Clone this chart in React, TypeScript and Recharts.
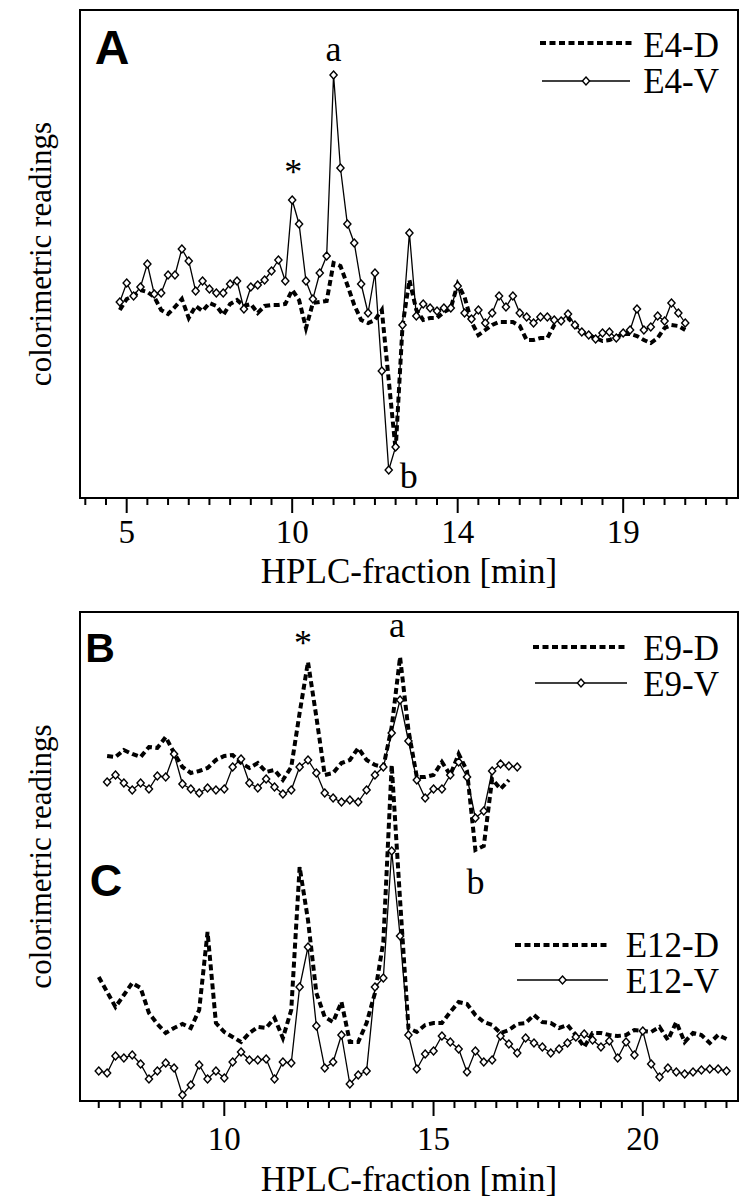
import React from "react";
import {
  LineChart,
  Line,
  XAxis,
  YAxis,
  ReferenceArea,
  ReferenceDot,
  Legend,
} from "recharts";

const SERIF = '"Liberation Serif", "Times New Roman", serif';
const SANS = '"Liberation Sans", Arial, sans-serif';

// Panel A: one reading per collected fraction (fraction number = index)
const E4_D = [
  1.88, 1.99, 2.02, 2.08, 2.06, 2.01, 1.88, 1.84, 1.91, 1.99,
  1.8, 1.92, 1.87, 1.95, 1.92, 1.83, 1.94, 1.98, 1.92, 1.94,
  1.85, 1.92, 1.93, 1.93, 1.94, 2.08, 1.98, 1.7, 1.95, 1.96,
  1.97, 2.35, 2.32, 2.13, 1.93, 1.78, 1.75, 1.78, 1.88, 1.18,
  0.48, 1.72, 2.18, 1.88, 1.78, 1.8, 1.8, 1.86, 1.9, 2.14,
  2.01, 1.76, 1.63, 1.68, 1.73, 1.76, 1.76, 1.76, 1.72, 1.58,
  1.58, 1.6, 1.6, 1.73, 1.78, 1.8, 1.73, 1.66, 1.63, 1.6,
  1.57, 1.58, 1.61, 1.64, 1.64, 1.62, 1.58, 1.55, 1.6, 1.7,
  1.73, 1.72, 1.68,
];
const E4_V = [
  1.96, 2.15, 2.02, 2.11, 2.34, 2.04, 2.05, 2.23, 2.23, 2.49,
  2.37, 2.07, 2.17, 2.09, 2.05, 2.05, 2.14, 2.17, 1.89, 2.11,
  2.13, 2.18, 2.27, 2.38, 2.17, 2.98, 2.74, 2.17, 1.99, 2.25,
  2.42, 4.23, 3.3, 2.74, 2.55, 2.14, 1.85, 2.25, 1.27, 0.28,
  0.51, 1.73, 2.65, 1.82, 1.94, 1.9, 1.87, 1.9, 1.9, 2.12,
  1.85, 1.79, 1.88, 1.75, 1.85, 2.02, 1.91, 2.02, 1.85, 1.81,
  1.75, 1.81, 1.81, 1.78, 1.77, 1.84, 1.73, 1.66, 1.63, 1.59,
  1.65, 1.66, 1.6, 1.65, 1.68, 1.89, 1.68, 1.71, 1.82, 1.77,
  1.95, 1.85, 1.75,
];
const A_MAJOR_TICKS = [1, 25, 49, 73];
const A_TICK_LABELS = ["5", "10", "14", "19"];
const A_X_DOMAIN = [-5.77, 89.65];
const A_Y_DOMAIN = [0, 4.88];

// Panels B and C: fractions every 0.2 min
const STEP = 0.2;
const E9_START = 7.2;
const E12_START = 7.0;
const E9_D = [
  3.45, 3.44, 3.51, 3.47, 3.44, 3.54, 3.53, 3.64, 3.48, 3.34,
  3.28, 3.3, 3.33, 3.41, 3.45, 3.46, 3.38, 3.33, 3.38, 3.29,
  3.31, 3.21, 3.34, 3.88, 4.39, 3.84, 3.26, 3.28, 3.38, 3.41,
  3.53, 3.41, 3.36, 3.34, 3.74, 4.44, 3.71, 3.24, 3.24, 3.26,
  3.39, 3.26, 3.47, 3.3, 2.51, 2.55, 3.22, 3.12, 3.21,
];
const E9_V = [
  3.19, 3.26, 3.18, 3.11, 3.18, 3.12, 3.25, 3.24, 3.47, 3.17,
  3.12, 3.08, 3.13, 3.11, 3.12, 3.34, 3.42, 3.18, 3.13, 3.22,
  3.14, 3.07, 3.11, 3.34, 3.41, 3.28, 3.08, 3.03, 2.99, 3.01,
  2.99, 3.11, 3.26, 3.34, 3.68, 4.01, 3.6, 3.21, 3.03, 3.12,
  3.12, 3.26, 3.39, 3.24, 2.83, 2.9, 3.3, 3.37, 3.35, 3.34,
];
const E12_D = [
  1.24, 1.09, 0.94, 1.06, 1.18, 1.13, 0.88, 0.77, 0.68, 0.73,
  0.77, 0.73, 0.91, 1.69, 0.78, 0.69, 0.64, 0.59, 0.68, 0.74,
  0.73, 0.83, 0.63, 0.91, 2.34, 1.81, 1.08, 0.84, 0.79, 0.99,
  0.59, 0.59, 0.78, 1.08, 1.59, 3.36, 2.01, 0.73, 0.69, 0.76,
  0.78, 0.78, 0.89, 0.99, 0.97, 0.86, 0.79, 0.76, 0.68, 0.71,
  0.77, 0.78, 0.86, 0.79, 0.78, 0.73, 0.76, 0.66, 0.54, 0.68,
  0.68, 0.66, 0.65, 0.66, 0.71, 0.7, 0.69, 0.74, 0.61, 0.79,
  0.59, 0.68, 0.66, 0.58, 0.66, 0.62,
];
const E12_V = [
  0.3, 0.28, 0.45, 0.43, 0.46, 0.37, 0.22, 0.3, 0.38, 0.33,
  0.06, 0.16, 0.36, 0.22, 0.3, 0.23, 0.39, 0.49, 0.41, 0.41,
  0.42, 0.22, 0.39, 0.38, 1.14, 1.54, 0.75, 0.33, 0.39, 0.66,
  0.17, 0.26, 0.3, 1.14, 1.23, 2.5, 1.65, 0.66, 0.32, 0.47,
  0.5, 0.65, 0.59, 0.52, 0.29, 0.5, 0.39, 0.41, 0.65, 0.57,
  0.48, 0.63, 0.58, 0.54, 0.48, 0.52, 0.58, 0.64, 0.67, 0.61,
  0.54, 0.6, 0.43, 0.59, 0.46, 0.7, 0.37, 0.24, 0.33, 0.29,
  0.27, 0.29, 0.31, 0.32, 0.32, 0.3,
];
const BC_MAJOR_TICKS = [10, 15, 20];
const BC_TICK_LABELS = ["10", "15", "20"];
const BC_X_DOMAIN = [6.552, 22.275];
const BC_Y_DOMAIN = [0, 4.89];

const round1 = (n: number) => Math.round(n * 10) / 10;

const rowsA = E4_V.map((v, i) => ({ x: i, v, d: E4_D[i] }));
const rowsE9 = E9_V.map((v, i) => ({ x: round1(E9_START + i * STEP), v, d: E9_D[i] }));
const rowsE12 = E12_V.map((v, i) => ({ x: round1(E12_START + i * STEP), v, d: E12_D[i] }));

const minorTicks = (from: number, to: number, step: number) => {
  const out: number[] = [];
  for (let t = from; t <= to + 1e-9; t += step) out.push(round1(t));
  return out;
};
const A_TICKS = minorTicks(-5, 88, 3);
const BC_TICKS = minorTicks(7, 22, 0.5);

const DASH = "6 3.5";

function Diamond(props: any) {
  const { cx, cy } = props;
  if (cx == null || cy == null) return null;
  return (
    <path
      d={`M${cx},${cy - 4}L${cx + 3.6},${cy}L${cx},${cy + 4}L${cx - 3.6},${cy}Z`}
      fill="#fff"
      stroke="#000"
      strokeWidth={1.4}
    />
  );
}

const renderDot = (p: any) => <Diamond key={`dot-${p.index}`} cx={p.cx} cy={p.cy} />;

function makeTick(majors: number[], labels: string[], labelDy: number) {
  return function Tick(props: any) {
    const { x, y, payload } = props;
    const k = majors.findIndex((m) => Math.abs(m - payload.value) < 1e-6);
    return (
      <g>
        <line x1={x} x2={x} y1={y} y2={y + (k >= 0 ? 15 : 7)} stroke="#000" strokeWidth={2} />
        {k >= 0 && (
          <text x={x} y={y + labelDy} textAnchor="middle" fontFamily={SERIF} fontSize={33} fill="#000">
            {labels[k]}
          </text>
        )}
      </g>
    );
  };
}

const note = (text: string, dx: number, dy: number) => (props: any) => {
  const vb = props.viewBox || {};
  return (
    <text
      x={(vb.x || 0) + dx}
      y={(vb.y || 0) + dy}
      textAnchor="middle"
      fontFamily={SERIF}
      fontSize={36}
      fill="#000"
    >
      {text}
    </text>
  );
};

type KeyRow = { name: string; x1: number; x2: number; lineY: number; textY: number };

function SeriesKey({ payload, rows, height }: { payload?: any[]; rows: KeyRow[]; height: number }) {
  return (
    <svg width={750} height={height} style={{ display: "block" }}>
      {rows.map((r) => {
        const entry = (payload || []).find((p) => p.value === r.name);
        const dashed = entry?.payload?.strokeDasharray ?? r.name.endsWith("-D");
        return (
          <g key={r.name}>
            {dashed ? (
              <line x1={r.x1} x2={r.x2} y1={r.lineY} y2={r.lineY} stroke="#000" strokeWidth={4} strokeDasharray={DASH} />
            ) : (
              <g>
                <line x1={r.x1} x2={r.x2} y1={r.lineY} y2={r.lineY} stroke="#000" strokeWidth={1.3} />
                <Diamond cx={(r.x1 + r.x2) / 2} cy={r.lineY} />
              </g>
            )}
            <text x={719} y={r.textY} textAnchor="end" fontFamily={SERIF} fontSize={35} fill="#000">
              {r.name}
            </text>
          </g>
        );
      })}
    </svg>
  );
}

const KEY_A: KeyRow[] = [
  { name: "E4-D", x1: 540, x2: 632, lineY: 43, textY: 57 },
  { name: "E4-V", x1: 542, x2: 630, lineY: 81, textY: 93 },
];
const KEY_BC: KeyRow[] = [
  { name: "E9-D", x1: 533, x2: 628, lineY: 47, textY: 60 },
  { name: "E9-V", x1: 535, x2: 627, lineY: 83, textY: 96 },
  { name: "E12-D", x1: 515, x2: 610, lineY: 345, textY: 357 },
  { name: "E12-V", x1: 517, x2: 608, lineY: 380, textY: 393 },
];

const yLabel = {
  value: "colorimetric readings",
  angle: -90,
  position: "center" as const,
  fontFamily: SERIF,
  fontSize: 31,
  fill: "#000",
};

export default function App() {
  return (
    <div
      style={{
        position: "absolute",
        left: 0,
        top: 0,
        width: 750,
        height: 1199,
        background: "#fff",
        fontFamily: SERIF,
      }}
    >
      <div style={{ position: "absolute", left: 0, top: 0 }}>
        <LineChart width={750} height={600} data={rowsA} margin={{ top: 10, right: 12, bottom: 42, left: 0 }}>
          <XAxis
            type="number"
            dataKey="x"
            domain={A_X_DOMAIN}
            allowDataOverflow
            ticks={A_TICKS}
            interval={0}
            tickSize={0}
            tickMargin={0}
            tickLine={false}
            axisLine={false}
            tick={makeTick(A_MAJOR_TICKS, A_TICK_LABELS, 45)}
            height={60}
            label={{
              value: "HPLC-fraction [min]",
              position: "bottom",
              offset: 0,
              fontFamily: SERIF,
              fontSize: 35,
              fill: "#000",
            }}
          />
          <YAxis
            type="number"
            domain={A_Y_DOMAIN}
            allowDataOverflow
            width={80}
            tick={false}
            tickLine={false}
            axisLine={false}
            label={yLabel}
          />
          <ReferenceArea
            x1={A_X_DOMAIN[0]}
            x2={A_X_DOMAIN[1]}
            y1={A_Y_DOMAIN[0]}
            y2={A_Y_DOMAIN[1]}
            fill="none"
            stroke="#000"
            strokeWidth={2}
            ifOverflow="visible"
          />
          <Line
            name="E4-V"
            dataKey="v"
            type="linear"
            stroke="#000"
            strokeWidth={1.3}
            dot={renderDot}
            activeDot={false}
            isAnimationActive={false}
          />
          <Line
            name="E4-D"
            dataKey="d"
            type="linear"
            stroke="#000"
            strokeWidth={4}
            strokeDasharray={DASH}
            dot={false}
            activeDot={false}
            isAnimationActive={false}
          />
          <ReferenceDot x={25} y={E4_V[25]} r={0} fill="none" stroke="none" label={note("*", 1, -16)} />
          <ReferenceDot x={31} y={E4_V[31]} r={0} fill="none" stroke="none" label={note("a", 0, -14)} />
          <ReferenceDot x={39} y={E4_V[39]} r={0} fill="none" stroke="none" label={note("b", 20, 18)} />
          <Legend
            layout="horizontal"
            verticalAlign="middle"
            align="center"
            wrapperStyle={{ left: 0, top: 0, width: 750, height: 600, pointerEvents: "none" }}
            content={(p: any) => <SeriesKey payload={p.payload} rows={KEY_A} height={600} />}
          />
        </LineChart>
      </div>

      <div style={{ position: "absolute", left: 0, top: 600 }}>
        <LineChart width={750} height={599} margin={{ top: 12, right: 12, bottom: 38, left: 0 }}>
          <XAxis
            type="number"
            dataKey="x"
            domain={BC_X_DOMAIN}
            allowDataOverflow
            ticks={BC_TICKS}
            interval={0}
            tickSize={0}
            tickMargin={0}
            tickLine={false}
            axisLine={false}
            tick={makeTick(BC_MAJOR_TICKS, BC_TICK_LABELS, 49)}
            height={60}
            label={{
              value: "HPLC-fraction [min]",
              position: "bottom",
              offset: 5,
              fontFamily: SERIF,
              fontSize: 35,
              fill: "#000",
            }}
          />
          <YAxis
            type="number"
            domain={BC_Y_DOMAIN}
            allowDataOverflow
            width={80}
            tick={false}
            tickLine={false}
            axisLine={false}
            label={yLabel}
          />
          <ReferenceArea
            x1={BC_X_DOMAIN[0]}
            x2={BC_X_DOMAIN[1]}
            y1={BC_Y_DOMAIN[0]}
            y2={BC_Y_DOMAIN[1]}
            fill="none"
            stroke="#000"
            strokeWidth={2}
            ifOverflow="visible"
          />
          <Line
            name="E9-V"
            data={rowsE9}
            dataKey="v"
            type="linear"
            stroke="#000"
            strokeWidth={1.3}
            dot={renderDot}
            activeDot={false}
            isAnimationActive={false}
          />
          <Line
            name="E12-V"
            data={rowsE12}
            dataKey="v"
            type="linear"
            stroke="#000"
            strokeWidth={1.3}
            dot={renderDot}
            activeDot={false}
            isAnimationActive={false}
          />
          <Line
            name="E9-D"
            data={rowsE9}
            dataKey="d"
            type="linear"
            stroke="#000"
            strokeWidth={4}
            strokeDasharray={DASH}
            dot={false}
            activeDot={false}
            isAnimationActive={false}
          />
          <Line
            name="E12-D"
            data={rowsE12}
            dataKey="d"
            type="linear"
            stroke="#000"
            strokeWidth={4}
            strokeDasharray={DASH}
            dot={false}
            activeDot={false}
            isAnimationActive={false}
          />
          <ReferenceDot x={rowsE9[24].x} y={E9_D[24]} r={0} fill="none" stroke="none" label={note("*", -5, -7)} />
          <ReferenceDot x={rowsE9[35].x} y={E9_D[35]} r={0} fill="none" stroke="none" label={note("a", -3, -20)} />
          <ReferenceDot x={rowsE9[44].x} y={E9_D[44]} r={0} fill="none" stroke="none" label={note("b", 0, 44)} />
          <Legend
            layout="horizontal"
            verticalAlign="middle"
            align="center"
            wrapperStyle={{ left: 0, top: 0, width: 750, height: 599, pointerEvents: "none" }}
            content={(p: any) => <SeriesKey payload={p.payload} rows={KEY_BC} height={599} />}
          />
        </LineChart>
      </div>

      <svg
        width={750}
        height={1199}
        style={{ position: "absolute", left: 0, top: 0, pointerEvents: "none" }}
      >
        <text x={112} y={64} textAnchor="middle" fontFamily={SANS} fontWeight="bold" fontSize={48} fill="#000">
          A
        </text>
        <text x={100} y={662} textAnchor="middle" fontFamily={SANS} fontWeight="bold" fontSize={41} fill="#000">
          B
        </text>
        <text x={106} y={896} textAnchor="middle" fontFamily={SANS} fontWeight="bold" fontSize={45} fill="#000">
          C
        </text>
      </svg>
    </div>
  );
}
